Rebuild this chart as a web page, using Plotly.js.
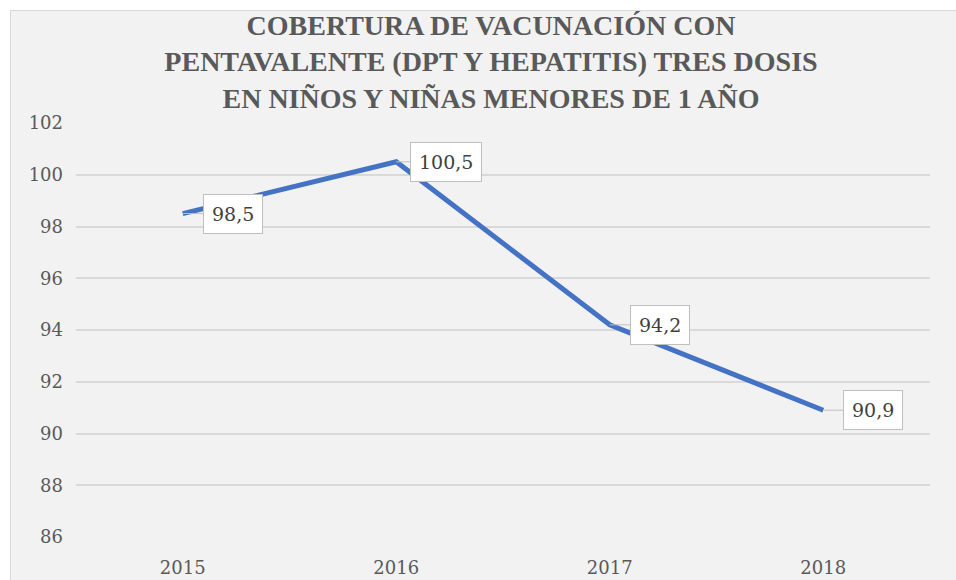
<!DOCTYPE html>
<html>
<head>
<meta charset="utf-8">
<script src="https://cdn.plot.ly/plotly-3.0.1.min.js"></script>
<style>
html,body{margin:0;padding:0;background:#ffffff;overflow:hidden;width:956px;height:580px;}
#chart{position:absolute;left:10px;top:10px;width:960px;height:600px;border:1px solid #d9d9d9;}
</style>
</head>
<body>
<div id="chart"></div>
<script>
const years = ['2015', '2016', '2017', '2018'];
const coverage = [98.5, 100.5, 94.2, 90.9];
const labels = ['98,5', '100,5', '94,2', '90,9'];
const yTicks = [86, 88, 90, 92, 94, 96, 98, 100, 102];

const serif = '"DejaVu Serif", serif';

const trace = {
  x: years,
  y: coverage,
  type: 'scatter',
  mode: 'lines',
  line: {color: '#4472c4', width: 5},
  hoverinfo: 'skip'
};

const annotations = years.map((yr, i) => ({
  x: i, y: coverage[i], xref: 'x', yref: 'y',
  text: labels[i],
  showarrow: true, arrowhead: 0, arrowwidth: 1, arrowcolor: '#bfbfbf',
  ax: 50, ay: 0, xanchor: 'center', yanchor: 'middle',
  bgcolor: '#ffffff', bordercolor: '#bfbfbf', borderwidth: 1, borderpad: 8,
  font: {family: serif, size: 19, color: '#404040'}
}));

const layout = {
  width: 960, height: 600,
  paper_bgcolor: '#f2f2f2', plot_bgcolor: '#f2f2f2',
  margin: {l: 65, r: 41, t: 112, b: 74},
  title: {
    text: 'COBERTURA DE VACUNACIÓN CON<br>PENTAVALENTE (DPT Y HEPATITIS) TRES DOSIS<br>EN NIÑOS Y NIÑAS MENORES DE 1 AÑO',
    font: {family: '"Liberation Serif", serif', size: 28, color: '#595959', weight: 'bold'},
    x: 0.5, xref: 'container', xanchor: 'center',
    y: 0.96, yref: 'container', yanchor: 'top'
  },
  xaxis: {
    type: 'category', showgrid: false, zeroline: false, showline: false,
    ticks: '', tickfont: {family: serif, size: 18, color: '#595959'},
    range: [-0.5, 3.5], ticklabelstandoff: 18
  },
  yaxis: {
    range: [86, 102], tickvals: yTicks, showgrid: true, gridcolor: '#d9d9d9', gridwidth: 2,
    zeroline: false, showline: false, ticks: '',
    tickfont: {family: serif, size: 18, color: '#595959'},
    ticklabelstandoff: 12
  },
  annotations: annotations,
  showlegend: false
};

Plotly.newPlot('chart', [trace], layout, {displayModeBar: false, staticPlot: true});
</script>
</body>
</html>
